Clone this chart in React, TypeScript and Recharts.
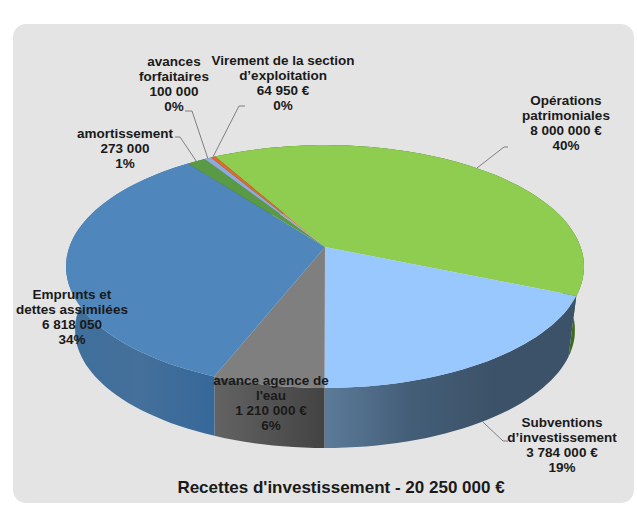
import { PieChart, Pie } from "recharts";

const CATEGORIES = [
  "Opérations patrimoniales",
  "Subventions d’investissement",
  "avance agence de l'eau",
  "Emprunts et dettes assimilées",
  "amortissement",
  "avances forfaitaires",
  "Virement de la section d’exploitation",
];
const VALUES = [8000000, 3784000, 1210000, 6818050, 273000, 100000, 64950];
const LABELS = [
  ["Opérations", "patrimoniales", "8 000 000 €", "40%"],
  ["Subventions", "d’investissement", "3 784 000 €", "19%"],
  ["avance agence de", "l'eau", "1 210 000 €", "6%"],
  ["Emprunts et", "dettes assimilées", "6 818 050", "34%"],
  ["amortissement", "273 000", "1%"],
  ["avances", "forfaitaires", "100 000", "0%"],
  ["Virement de la section", "d’exploitation", "64 950 €", "0%"],
];
const TITLE = "Recettes d'investissement - 20 250 000 €";

// styling, same order as the categories
const TOP_COLORS = ["#8ecd50", "#99c8fe", "#7f7f7f", "#4f87bd", "#5b9a45", "#8ea9db", "#e0692f"];
const WALL_STOPS = [
  ["#3e6a1e", "#3e6a1e"],
  ["#5c7b9a", "#445e78", "#3c5268", "#3c5268"],
  ["#636363", "#434343"],
  ["#3f6f9c", "#44709a", "#36689a"],
  ["#3c6a2c", "#3c6a2c"],
  ["#5f7596", "#5f7596"],
  ["#994a20", "#994a20"],
];
// where each label sits: centre x, first line centre y
const LABEL_POS = [
  [566, 100],
  [562, 422],
  [271, 380],
  [72, 294],
  [125, 133],
  [174, 61],
  [283, 60],
];
// leader line elbows, null when the label has none
const LEADERS: (number[][] | null)[] = [
  [[504, 147], [508, 147]],
  [[503, 441], [508, 441]],
  null,
  null,
  [[180, 137], [175, 137]],
  [[192, 111], [185, 111]],
  [[239, 106], [245, 106]],
];
const LEADER_ON_BOTTOM = [false, true, false, false, false, false, false];

const CENTER_X = 325;
const CENTER_Y = 247;
const LINE_H = 15.3;

// fake 3d: perspective projection of the pie's circle
const K = -0.161;
const SCALE_X = 255.6;
const SCALE_Y = 118.3;
const TOP_MID_Y = 266;
const BOTTOM_MID_Y = 330;
const BOTTOM_SCALE = 0.965;
const BOTTOM_RX = 250;
const BOTTOM_RY = 118;

const project = (angle: number) => {
  const rad = (angle * Math.PI) / 180;
  const u = Math.cos(rad);
  const v = -Math.sin(rad);
  const w = 1 + K * v;
  return [CENTER_X + (SCALE_X * u) / w, CENTER_Y + (SCALE_Y * v) / w];
};

// plain scaling, only used for where a leader line leaves the bottom edge
const toBottom = ([x, y]: number[]) => [
  CENTER_X + BOTTOM_SCALE * (x - CENTER_X),
  BOTTOM_MID_Y + BOTTOM_SCALE * (y - TOP_MID_Y),
];

// wall edges stay vertical at the front, only squeezed near the sides
const wallBottom = ([x, y]: number[]) => {
  const dx = x - CENTER_X;
  const squeezed = dx * (1 - 0.035 * Math.pow(Math.abs(dx) / 259, 4));
  const ratio = Math.min(1, Math.abs(squeezed) / BOTTOM_RX);
  const side = y >= TOP_MID_Y ? 1 : -1;
  return [CENTER_X + squeezed, BOTTOM_MID_Y + side * BOTTOM_RY * Math.sqrt(1 - ratio * ratio)];
};

const arcPoints = (startAngle: number, endAngle: number) => {
  const steps = Math.max(2, Math.ceil(Math.abs(endAngle - startAngle) / 2));
  const pts: number[][] = [];
  for (let i = 0; i <= steps; i++) {
    pts.push(project(startAngle + ((endAngle - startAngle) * i) / steps));
  }
  return pts;
};

const toPath = (pts: number[][]) =>
  "M" + pts.map((p) => `${p[0].toFixed(1)},${p[1].toFixed(1)}`).join("L") + "Z";

const TopSlice = (props: any) => {
  const { startAngle, endAngle, idx } = props;
  const pts = [[CENTER_X, CENTER_Y], ...arcPoints(startAngle, endAngle)];
  return <path d={toPath(pts)} fill={TOP_COLORS[idx]} stroke="none" />;
};

const WallSlice = (props: any) => {
  const { startAngle, endAngle, idx } = props;
  const arc = arcPoints(startAngle, endAngle);
  const pts = [...arc, ...arc.map(wallBottom).reverse()];
  const stops = WALL_STOPS[idx];
  return (
    <g>
      <defs>
        <linearGradient id={`wall-${idx}`} x1="0" y1="0" x2="1" y2="0">
          {stops.map((c, i) => (
            <stop key={i} offset={i / (stops.length - 1)} stopColor={c} />
          ))}
        </linearGradient>
      </defs>
      <path d={toPath(pts)} fill={`url(#wall-${idx})`} stroke="none" />
    </g>
  );
};

const renderLabel = (props: any) => {
  const { midAngle, index } = props;
  const [x, y] = LABEL_POS[index];
  const elbow = LEADERS[index];
  let start = project(midAngle);
  if (LEADER_ON_BOTTOM[index]) start = toBottom(start);
  return (
    <g key={index}>
      {elbow && (
        <polyline
          points={[start, ...elbow].map((p) => p.join(",")).join(" ")}
          fill="none"
          stroke="#7f7f7f"
          strokeWidth={1}
        />
      )}
      {LABELS[index].map((line, i) => (
        <text
          key={i}
          x={x}
          y={y + i * LINE_H + 4.5}
          textAnchor="middle"
          fontFamily="'Liberation Sans', Arial, sans-serif"
          fontWeight="bold"
          fontSize={13.5}
          fill="#1a1a1a"
        >
          {line}
        </text>
      ))}
    </g>
  );
};

const data = CATEGORIES.map((name, i) => ({ name, value: VALUES[i], idx: i }));

export default function App() {
  return (
    <div style={{ position: "absolute", left: 0, top: 0, width: 637, height: 514, background: "#fff" }}>
      <div
        style={{
          position: "absolute",
          left: 13,
          top: 24,
          width: 621,
          height: 479,
          borderRadius: 13,
          background: "#e4e4e4",
        }}
      />
      <div style={{ position: "absolute", left: 0, top: 0 }}>
        <PieChart width={637} height={514} margin={{ top: 0, right: 0, bottom: 0, left: 0 }}>
          <Pie
            data={data}
            dataKey="value"
            cx={CENTER_X}
            cy={CENTER_Y}
            outerRadius={100}
            startAngle={119.4}
            endAngle={-240.6}
            shape={WallSlice}
            isAnimationActive={false}
          />
          <Pie
            data={data}
            dataKey="value"
            cx={CENTER_X}
            cy={CENTER_Y}
            outerRadius={100}
            startAngle={119.4}
            endAngle={-240.6}
            shape={TopSlice}
            label={renderLabel}
            labelLine={false}
            isAnimationActive={false}
          />
        </PieChart>
      </div>
      <div
        style={{
          position: "absolute",
          left: 0,
          width: 682,
          top: 478,
          textAlign: "center",
          fontFamily: "'Liberation Sans', Arial, sans-serif",
          fontWeight: "bold",
          fontSize: 17,
          lineHeight: "20px",
          color: "#1a1a1a",
          whiteSpace: "nowrap",
        }}
      >
        {TITLE}
      </div>
    </div>
  );
}
